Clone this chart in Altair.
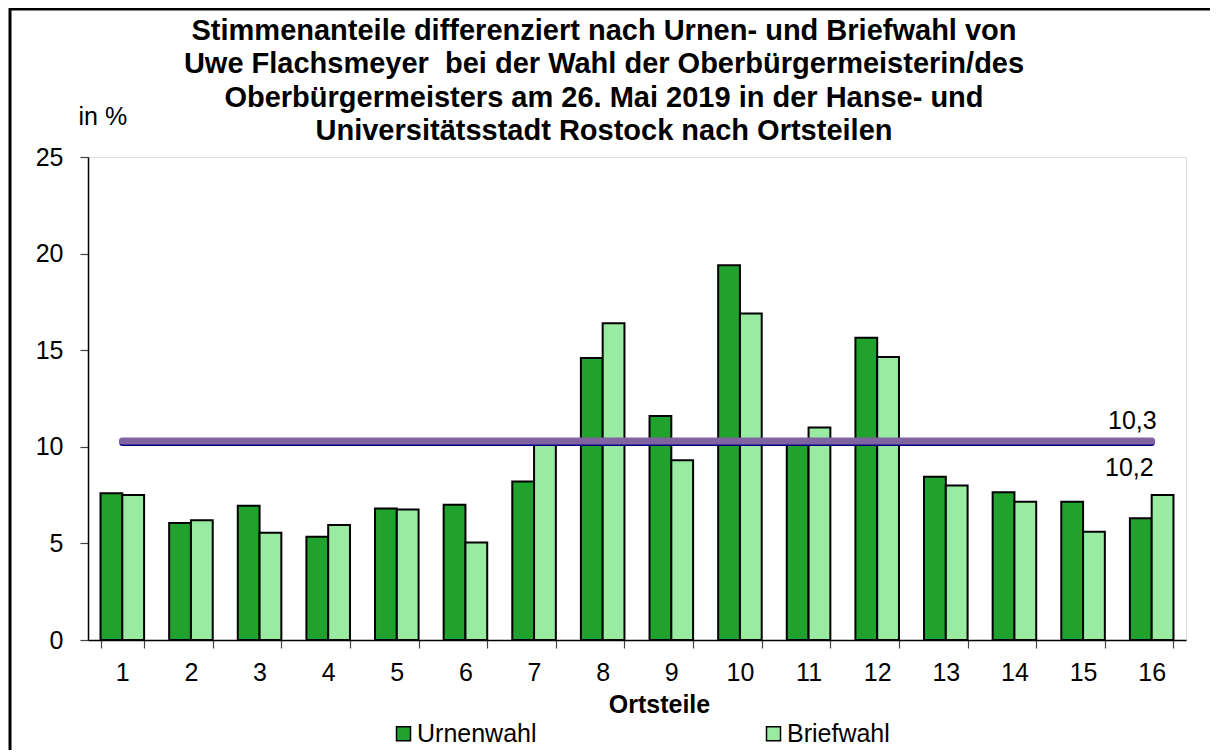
import altair as alt
import pandas as pd

ortsteile = [str(i) for i in range(1, 17)]
urnenwahl = [7.6, 6.05, 6.95, 5.35, 6.8, 7.0, 8.2, 14.6, 11.6, 19.4, 10.25, 15.65, 8.45, 7.65, 7.15, 6.3]
briefwahl = [7.5, 6.2, 5.55, 5.95, 6.75, 5.05, 10.3, 16.4, 9.3, 16.9, 11.0, 14.65, 8.0, 7.15, 5.6, 7.5]
serien = ["Urnenwahl", "Briefwahl"]
farben = ["#21A12E", "#99EBA2"]

ref_werte = [10.3, 10.2]
ref_texte = ["10,3", "10,2"]

title_lines = [
    "Stimmenanteile differenziert nach Urnen- und Briefwahl von",
    "Uwe Flachsmeyer\u00a0 bei der Wahl der Oberbürgermeisterin/des",
    "Oberbürgermeisters am 26. Mai 2019 in der Hanse- und",
    "Universitätsstadt Rostock nach Ortsteilen",
]

FONT = "Liberation Sans, Arial, sans-serif"

rows = []
for o, u, b in zip(ortsteile, urnenwahl, briefwahl):
    rows.append({"ort": o, "serie": serien[0], "wert": u})
    rows.append({"ort": o, "serie": serien[1], "wert": b})
df = pd.DataFrame(rows)

xscale = alt.Scale(domain=ortsteile, paddingInner=0.365, paddingOuter=0.1825)
yscale = alt.Scale(domain=[0, 25], nice=False)

bars = alt.Chart(df).mark_bar(stroke="black", strokeWidth=2).encode(
    x=alt.X(
        "ort:N",
        sort=ortsteile,
        scale=xscale,
        axis=alt.Axis(
            title="Ortsteile",
            labelAngle=0,
            tickBand="extent",
            tickSize=8,
            labelPadding=12,
            labelFontSize=25,
            labelFont=FONT,
            labelColor="black",
            titleFontSize=25,
            titleFont=FONT,
            titleFontWeight="bold",
            titleColor="black",
            titleX=571,
            titleY=72,
            titleBaseline="alphabetic",
            domainColor="black",
            domainWidth=1.5,
            tickColor="#444444",
            tickWidth=1.2,
            grid=False,
        ),
    ),
    xOffset=alt.XOffset("serie:N", sort=serien),
    y=alt.Y(
        "wert:Q",
        scale=yscale,
        axis=alt.Axis(
            values=[0, 5, 10, 15, 20, 25],
            title="in %",
            titleAngle=0,
            titleX=-10,
            titleY=-33,
            titleAlign="left",
            titleBaseline="alphabetic",
            titleFontWeight="normal",
            titleFontSize=25,
            titleFont=FONT,
            titleColor="black",
            tickSize=8,
            labelPadding=17,
            labelFontSize=25,
            labelFont=FONT,
            labelColor="black",
            domainColor="black",
            domainWidth=1.5,
            tickColor="#444444",
            tickWidth=1.2,
            grid=False,
        ),
    ),
    color=alt.Color(
        "serie:N",
        sort=serien,
        scale=alt.Scale(domain=serien, range=farben),
        legend=alt.Legend(
            title=None,
            orient="none",
            legendX=303,
            legendY=564,
            direction="horizontal",
            columns=2,
            columnPadding=224,
            symbolType="square",
            symbolSize=196,
            symbolStrokeColor="black",
            symbolStrokeWidth=1.5,
            symbolOpacity=1,
            labelFontSize=25,
            labelFont=FONT,
            labelColor="black",
            labelOffset=1,
            padding=0,
        ),
    ),
)

ref_df = pd.DataFrame({"v": ref_werte, "t": ref_texte, "x1": ["1", "1"], "x2": ["16", "16"]})

navy = alt.Chart(ref_df).transform_filter(alt.datum.t == "10,2").mark_rule(
    color="#000080", strokeWidth=6, strokeCap="round"
).encode(
    x=alt.X("x1:N", sort=ortsteile, scale=xscale),
    x2="x2:N",
    y=alt.Y("v:Q", scale=yscale),
)

purple = alt.Chart(ref_df).transform_filter(alt.datum.t == "10,3").mark_rule(
    color="#8064A2", strokeWidth=7, strokeCap="round"
).encode(
    x=alt.X("x1:N", sort=ortsteile, scale=xscale),
    x2="x2:N",
    y=alt.Y("v:Q", scale=yscale),
)

lab_hi = alt.Chart(ref_df).transform_filter(alt.datum.t == "10,3").mark_text(
    align="right", baseline="alphabetic", dx=5, dy=-12, fontSize=25, font=FONT, color="black"
).encode(
    x=alt.X("x2:N", sort=ortsteile, scale=xscale),
    y=alt.Y("v:Q", scale=yscale),
    text="t:N",
)

lab_lo = alt.Chart(ref_df).transform_filter(alt.datum.t == "10,2").mark_text(
    align="right", baseline="alphabetic", dx=2, dy=33, fontSize=25, font=FONT, color="black"
).encode(
    x=alt.X("x2:N", sort=ortsteile, scale=xscale),
    y=alt.Y("v:Q", scale=yscale),
    text="t:N",
)

one = pd.DataFrame({"a": [0]})

title = alt.Chart(one).mark_text(
    text=title_lines,
    align="center",
    baseline="top",
    lineHeight=33.3,
    fontSize=29,
    fontWeight="bold",
    font=FONT,
    color="black",
).encode(x=alt.value(516), y=alt.value(-140))

border_left = alt.Chart(one).mark_rule(color="black", strokeWidth=3).encode(
    x=alt.value(-78), y=alt.value(-149), y2=alt.value(700)
)
border_top = alt.Chart(one).mark_rule(color="black", strokeWidth=3).encode(
    x=alt.value(-79), x2=alt.value(1200), y=alt.value(-148)
)

chart = (
    alt.layer(bars, navy, purple, lab_hi, lab_lo, title, border_left, border_top)
    .properties(
        width=1098,
        height=483,
        autosize=alt.AutoSizeParams(type="none"),
        padding={"left": 80, "top": 149, "right": 24, "bottom": 110},
    )
    .configure_view(stroke="#808080", strokeWidth=2)
    .configure(background="white")
)

chart.save("out.html", embed_options={"renderer": "svg", "actions": False})
